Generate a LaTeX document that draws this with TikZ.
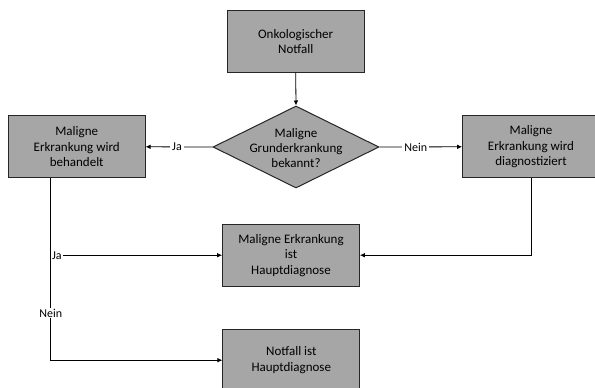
\documentclass[tikz,border=0pt]{standalone}
\usepackage{fontspec}
\setmainfont{Carlito}
\usetikzlibrary{arrows.meta,shapes.geometric}
\definecolor{boxgray}{HTML}{A6A6A6}
\definecolor{txt}{HTML}{000000}
\tikzset{
  fbox/.style={draw=black!85, line width=1pt, fill=boxgray, minimum width=136.7pt, minimum height=61.7pt, inner sep=0pt, align=center, text=txt, font=\fontsize{13}{15.5}\selectfont},
  fdia/.style={draw=black!85, line width=1pt, fill=boxgray, diamond, minimum width=166pt, minimum height=82pt, inner sep=0pt},
  dtext/.style={align=center, text=txt, font=\fontsize{13}{15}\selectfont, inner sep=0pt},
  arr/.style={draw=black, line width=0.8pt, -{Latex[length=5pt,width=4.5pt]}},
  lbl/.style={fill=white, inner xsep=2pt, inner ysep=1pt, text=txt, font=\fontsize{12}{13}\selectfont}
}
\begin{document}
\begin{tikzpicture}[x=1pt,y=-1pt]
\useasboundingbox (0,0) rectangle (595,388);
\clip (0,0) rectangle (595,388);
\fill[white] (0,0) rectangle (595,388);
\node[fbox] (top) at (295.7,41.3) {Onkologischer\\Notfall};
\node[fdia] (d) at (296,147) {};
\node[dtext] (dt) at (296,148.5) {Maligne\\Grunderkrankung\\bekannt?};
\node[fbox] (lb) at (76.7,146.8) {Maligne\\Erkrankung wird\\behandelt};
\node[fbox] (rb) at (531,146.8) {Maligne\\Erkrankung wird\\diagnostiziert};
\node[fbox] (mid) at (291,255.2) {Maligne Erkrankung\\ist\\Hauptdiagnose};
\node[fbox] (bot) at (291.3,360.2) {Notfall ist\\Hauptdiagnose};
\coordinate (lbo) at (50.7,177.7);
\coordinate (ja) at (lbo |- mid.west);
\draw[arr] (top.south) -- (d.north);
\draw[arr] (d.west) -- node[lbl, pos=0.53] (lja) {Ja} (lb.east);
\draw[arr] (d.east) -- node[lbl, pos=0.44] (lnein) {Nein} (rb.west);
\draw[arr] (lbo) |- node[lbl, pos=0.371] (lnein2) {Nein} (bot.west);
\draw[arr] (ja) -- node[lbl, pos=0, anchor=west, inner xsep=1pt] (lja2) {Ja} (mid.west);
\draw[arr] (rb.south) |- (mid.east);
\end{tikzpicture}
\end{document}
